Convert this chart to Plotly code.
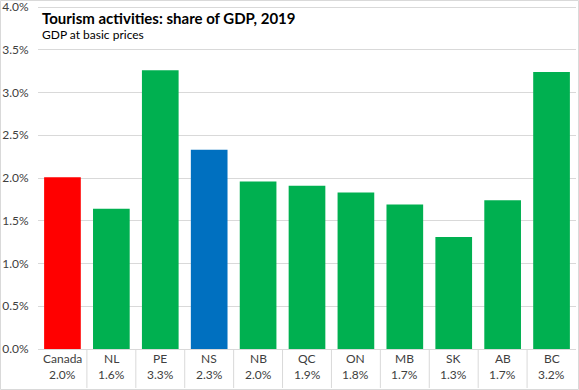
import plotly.graph_objects as go

regions = ["Canada", "NL", "PE", "NS", "NB", "QC", "ON", "MB", "SK", "AB", "BC"]
shares = [2.01, 1.64, 3.26, 2.33, 1.96, 1.91, 1.83, 1.69, 1.31, 1.74, 3.24]
colors = ["#FF0000", "#00B050", "#00B050", "#0070C0", "#00B050", "#00B050",
          "#00B050", "#00B050", "#00B050", "#00B050", "#00B050"]
y_ticks = [0, 0.5, 1, 1.5, 2, 2.5, 3, 3.5, 4]
y_tick_text = ["0.0%", "0.5%", "1.0%", "1.5%", "2.0%", "2.5%", "3.0%", "3.5%", "4.0%"]
title = "Tourism activities: share of GDP, 2019"
subtitle = "GDP at basic prices"

FONT = "Lato"
W, H = 579, 390
L, R, T, B = 38, 3, 6, 41
pw, ph = W - L - R, H - T - B
YMAX = 4.012

fig = go.Figure()
fig.add_trace(go.Bar(x=regions, y=shares, marker=dict(color=colors, line=dict(width=0)),
                     hoverinfo="x+y"))

ann = []
for r, v in zip(regions, shares):
    ann.append(dict(x=r, xref="x", y=(349 - 358) / ph, yref="paper", text=r,
                    showarrow=False, font=dict(family=FONT, size=12, color="#404040"),
                    yanchor="middle"))
    ann.append(dict(x=r, xref="x", y=(349 - 375) / ph, yref="paper", text=f"{v:.1f}%",
                    showarrow=False, font=dict(family=FONT, size=12, color="#404040"),
                    yanchor="middle"))
ann.append(dict(x=(40 - L) / pw, xref="paper", y=(349 - 18) / ph, yref="paper",
                text="<b>" + title + "</b>", showarrow=False, xanchor="left", yanchor="middle",
                font=dict(family=FONT, size=15, color="#000000")))
ann.append(dict(x=(40 - L) / pw, xref="paper", y=(349 - 35) / ph, yref="paper",
                text=subtitle, showarrow=False, xanchor="left", yanchor="middle",
                font=dict(family=FONT, size=12, color="#000000")))

shapes = []
for i in range(1, len(regions)):
    shapes.append(dict(type="line", xref="x", yref="paper", x0=i - 0.5, x1=i - 0.5,
                       y0=0, y1=(349 - 388) / ph, line=dict(color="#D9D9D9", width=1)))
shapes.append(dict(type="rect", xref="paper", yref="paper",
                   x0=(0.5 - L) / pw, x1=(578.5 - L) / pw,
                   y0=(349 - 389.5) / ph, y1=(349 - 0.5) / ph,
                   line=dict(color="#D9D9D9", width=1)))

fig.update_layout(
    width=W, height=H,
    margin=dict(l=L, r=R, t=T, b=B, autoexpand=False),
    paper_bgcolor="white", plot_bgcolor="white",
    bargap=0.25, showlegend=False,
    annotations=ann, shapes=shapes,
    font=dict(family=FONT, size=12, color="#404040"),
    xaxis=dict(showticklabels=False, showgrid=False, zeroline=False, automargin=False,
               showline=True, linecolor="#D9D9D9", linewidth=1, fixedrange=True),
    yaxis=dict(range=[0, YMAX], tickmode="array", tickvals=y_ticks, ticktext=y_tick_text,
               showgrid=True, gridcolor="#D9D9D9", gridwidth=1, zeroline=False,
               automargin=False,
               ticks="outside", ticklen=6, tickcolor="rgba(0,0,0,0)",
               ticklabeloverflow="allow",
               tickfont=dict(family=FONT, size=12, color="#404040"), fixedrange=True),
)

fig.write_html("out.html", config={"displayModeBar": False},
               post_script="document.body.style.margin='0';")
